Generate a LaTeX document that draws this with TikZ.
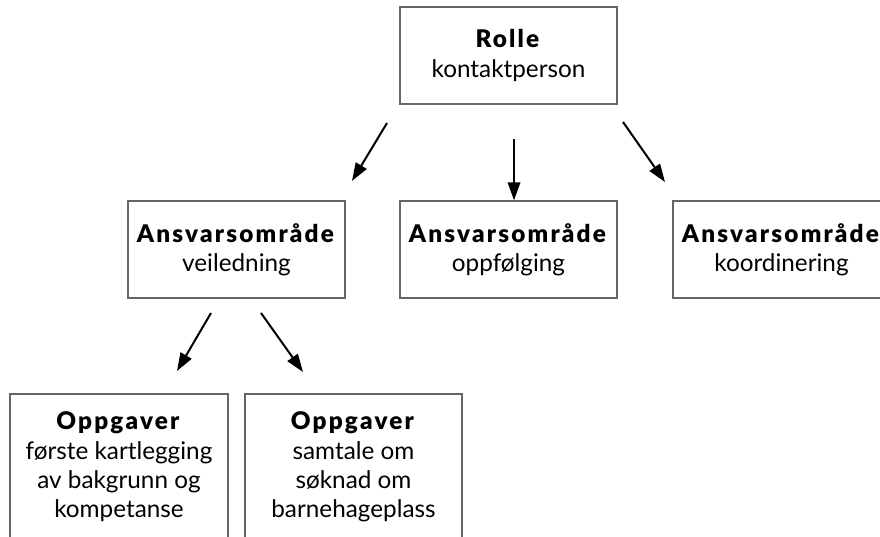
\documentclass[tikz,border=0pt]{standalone}
\usepackage{fontspec}
\setmainfont{Lato}[BoldFont={Lato Black},BoldFeatures={LetterSpace=9}]
\usepackage{tikz}
\usetikzlibrary{arrows.meta}
\tikzstyle{box}=[rectangle,draw=black!60,line width=1.4pt,inner sep=0pt,minimum width=217pt,minimum height=97pt,align=center,font=\fontsize{24.3}{29.3}\selectfont]
\tikzstyle{arrow}=[-{Triangle[length=18pt,width=12.5pt]},line width=2pt]

\begin{document}
\begin{tikzpicture}[x=1pt,y=-1pt]
      \useasboundingbox (0,0) rectangle (880,536);
      \clip (0,0) rectangle (880,536);
      \node[box] at (508.5,55.5) (rolle) {\textbf{Rolle}\\kontaktperson};
      \node[box] at (236.5,249.5) (veiledning) {\textbf{Ansvarsområde}\\veiledning};
      \node[box] at (508.5,249.5) (oppfolging) {\textbf{Ansvarsområde}\\oppfølging};
      \node[box] at (781.5,249.5) (koordinering) {\textbf{Ansvarsområde}\\koordinering};
      \node[box,minimum width=218pt,minimum height=146pt] at (119,467) (kartlegging) {\textbf{Oppgaver}\\første kartlegging\\av bakgrunn og\\kompetanse};
      \node[box,minimum height=146pt] at (353.5,467) (soknad) {\textbf{Oppgaver}\\samtale om\\søknad om\\barnehageplass};
      % free arrow ends
      \coordinate (r1) at (387,123);
      \coordinate (v1) at (352,181);
      \coordinate (r2) at (514,139);
      \coordinate (r3) at (623,122);
      \coordinate (k1) at (665,182);
      \coordinate (v2) at (211,313);
      \coordinate (o1) at (177,371);
      \coordinate (v3) at (261,313);
      \coordinate (o2) at (303,372);
      \draw[arrow] (r1) -- (v1);
      \draw[arrow] (r2) -- (r2 |- oppfolging.north);
      \draw[arrow] (r3) -- (k1);
      \draw[arrow] (v2) -- (o1);
      \draw[arrow] (v3) -- (o2);
    \end{tikzpicture}
\end{document}
